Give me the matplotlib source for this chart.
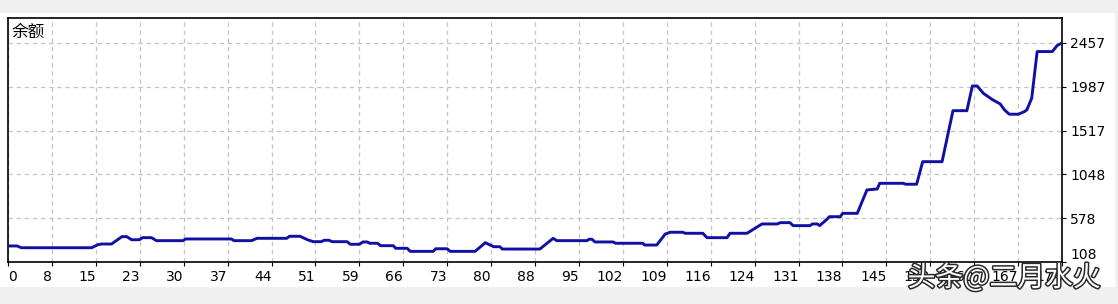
import matplotlib
matplotlib.use("Agg")
import matplotlib.pyplot as plt
import matplotlib.patheffects as pe
from matplotlib.patches import Rectangle

# ---- data ----
trade_idx = [0, 1.5, 2.2, 13.8, 14.9, 15.5, 17.1, 18.8, 19.6, 20.4, 21.7, 22.2, 23.7, 24.5,
             28.9, 29.3, 36.9, 37.3, 40.2, 41.1, 46.0, 46.5, 48.2, 49.5, 50.4, 51.7, 52.2,
             53.0, 53.5, 56.0, 56.5, 58.0, 58.6, 59.3, 59.7, 61.0, 61.5, 63.6, 64.0, 65.9,
             66.4, 70.2, 70.6, 72.5, 73.0, 77.1, 78.8, 79.6, 80.2, 81.2, 81.6, 87.8, 90.0,
             90.6, 95.6, 95.9, 96.4, 96.9, 99.9, 100.3, 104.8, 105.1, 107.1, 108.5, 109.3,
             111.4, 111.8, 114.7, 115.4, 118.7, 119.2, 122.0, 124.2, 124.5, 127.0, 127.5,
             129.1, 129.6, 132.4, 132.8, 133.6, 134.0, 135.2, 135.6, 137.4, 137.8, 140.2,
             141.8, 143.5, 143.9, 147.8, 148.2, 150.0, 151.0, 154.2, 156.0, 158.3, 159.2,
             160.0, 161.0, 162.6, 163.8, 164.5, 165.3, 166.8, 167.8, 168.2, 169.0, 169.9,
             172.4, 173.2, 174.0]
balance = [280, 280, 261, 261, 295, 301, 301, 380, 380, 347, 347, 369, 369, 337,
           337, 355, 355, 337, 337, 362, 362, 384, 384, 345, 326, 326, 341,
           341, 326, 326, 298, 298, 323, 323, 309, 309, 283, 283, 255, 255,
           222, 222, 250, 250, 222, 222, 315, 290, 272, 272, 247, 247, 362,
           337, 337, 352, 352, 323, 323, 309, 309, 290, 290, 408, 427,
           427, 416, 416, 369, 369, 416, 416, 505, 516, 516, 530,
           530, 498, 498, 516, 516, 498, 566, 594, 594, 630, 630,
           881, 891, 952, 952, 942, 942, 1184, 1184, 1731, 1731, 1996,
           1996, 1918, 1846, 1803, 1740, 1693, 1693, 1721, 1740, 1865, 2365,
           2365, 2430, 2457]

x_tick_labels = ["0", "8", "15", "23", "30", "37", "44", "51", "59", "66", "73", "80", "88",
                 "95", "102", "109", "116", "124", "131", "138", "145", "152", "160", "167", "174"]
x_tick_step = 7.25
y_tick_labels = ["108", "578", "1048", "1517", "1987", "2457"]
y_min, y_step = 108, 469.8
y_max = 2725
x_max = 174

W, H = 1118, 304
fig = plt.figure(figsize=(W / 100, H / 100), dpi=100, facecolor="#f0f0f0")

# white panel behind the chart
fig.patches.append(Rectangle((0, (H - 287) / H), 1115 / W, (287 - 13) / H,
                             transform=fig.transFigure, facecolor="white",
                             edgecolor="none", zorder=-10))

ax = fig.add_axes([8 / W, (H - 262) / H, (1062 - 8) / W, (262 - 18) / H])
ax.set_facecolor("white")
ax.plot(trade_idx, balance, color="#1010a4", lw=2.1, solid_joinstyle="round", zorder=3)

ax.set_xlim(0, x_max)
ax.set_ylim(y_min, y_max)

xt = [i * x_tick_step for i in range(len(x_tick_labels))]
ax.set_xticks(xt)
ax.set_xticklabels(x_tick_labels, fontsize=10, family="DejaVu Sans")
for i, lab in enumerate(ax.get_xticklabels()):
    lab.set_horizontalalignment("left" if i == 0 else "right")
ax.tick_params(axis="x", direction="out", length=3, width=0.8, pad=3, colors="black")

yt = [y_min + k * y_step for k in range(len(y_tick_labels))]
ax.yaxis.tick_right()
ax.set_yticks(yt)
ax.set_yticklabels(y_tick_labels, fontsize=10, family="DejaVu Sans")
ax.tick_params(axis="y", direction="out", length=3, width=0.8, pad=3, colors="black")
ax.get_yticklabels()[0].set_verticalalignment("bottom")

ax.grid(True, color="#c4c4c4", linestyle=(0, (3.5, 3)), linewidth=0.9)
ax.set_axisbelow(True)
for s in ax.spines.values():
    s.set_color("black")
    s.set_linewidth(1.2)

ax.text(0.003, 0.975, "余额", transform=ax.transAxes, ha="left", va="top",
        fontsize=12, family=["Noto Sans CJK SC", "DejaVu Sans"], color="black")

fig.text(1004 / W, (H - 278) / H, "头条@二月水火", ha="center", va="center",
         fontsize=20, family=["Noto Sans CJK SC", "DejaVu Sans"], color="white",
         path_effects=[pe.Stroke(linewidth=2.2, foreground="#2a2a2a"), pe.Normal()],
         zorder=10)

fig.savefig("out.png", dpi=100, facecolor=fig.get_facecolor())
